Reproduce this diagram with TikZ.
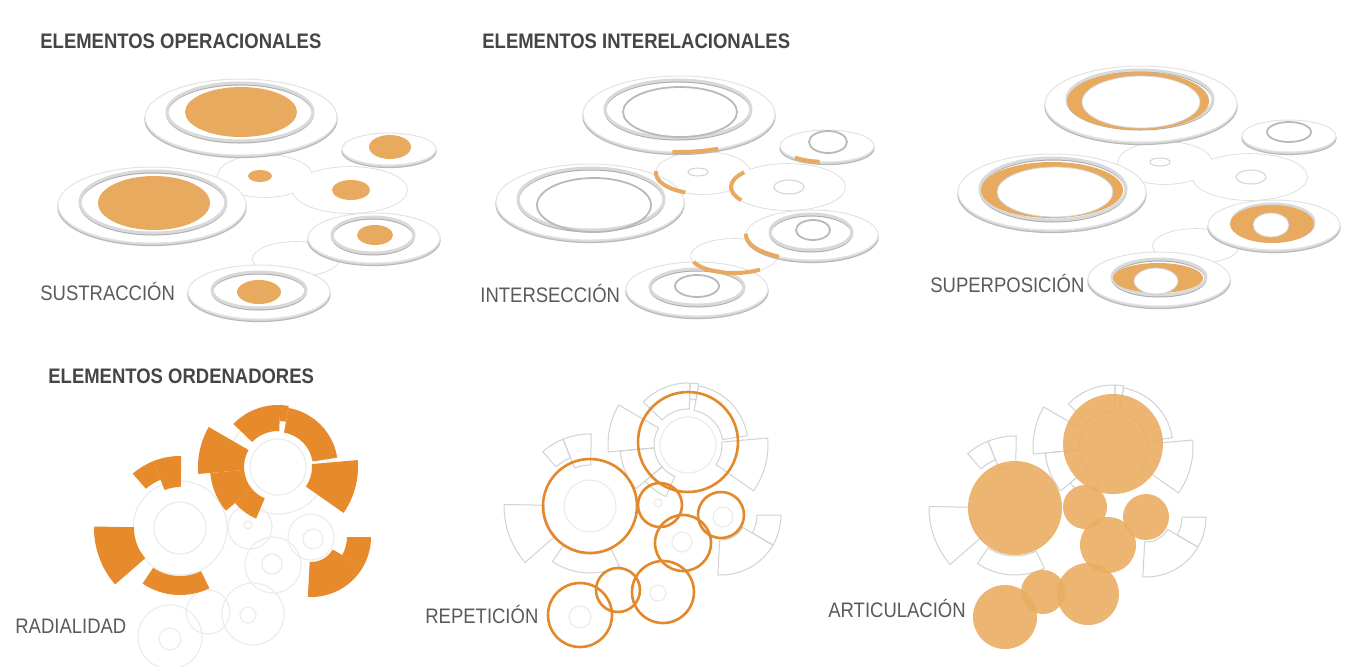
\documentclass[tikz,border=0pt]{standalone}
\usepackage{fontspec}
\setmainfont{Liberation Sans}[FakeStretch=0.88]
\definecolor{naranja}{HTML}{E8AA5E}
\definecolor{naranjafuerte}{HTML}{E68A2C}
\definecolor{naranjaaro}{HTML}{E3882B}
\definecolor{naranjaclaro}{HTML}{EAAD63}
\definecolor{titulo}{HTML}{454545}
\definecolor{rotulo}{HTML}{5A5A5A}
\tikzset{
  titulo/.style={font=\fontsize{10.5}{12}\selectfont\bfseries, text=titulo, anchor=base west, inner sep=0},
  rotulo/.style={font=\fontsize{10.5}{12}\selectfont, text=rotulo, anchor=base west, inner sep=0},
  disco/.style={draw=gray!28, line width=0.8pt},
  sombra/.style={fill=gray!30, draw=gray!55, line width=0.6pt},
  plato/.style={fill=white, draw=gray!22, line width=0.5pt},
  anillo/.style={draw=gray!30, line width=1.5pt},
  anillosombra/.style={draw=gray!65, line width=1pt},
  nucleo/.style={fill=naranja},
  borde/.style={draw=gray!55, line width=0.9pt},
  tenue/.style={draw=gray!35, line width=0.5pt},
  cruce/.style={draw=naranja, line width=2pt},
  hueco/.style={fill=white, draw=gray!35, line width=0.4pt},
  rueda/.style={draw=gray!35, line width=0.5pt},
  ruedallena/.style={fill=naranjafuerte},
  fondo/.style={draw=gray!15, line width=0.6pt},
  aro/.style={draw=naranjaaro, line width=1.3pt},
  burbuja/.style={fill=naranjaclaro, fill opacity=0.9},
}
% platos de los elementos operacionales e interelacionales
\newcommand{\platos}{%
  \foreach \x/\y/\a/\b in {265/176/47/21, 350/190/57/23, 296/259/43/17}
    \draw[disco] (\x,\y) ellipse[x radius=\a, y radius=\b];
  \foreach \x/\y/\a/\b in {265/176/47/21, 350/190/57/23, 296/259/43/17}
    \fill[white] (\x,\y) ellipse[x radius=\a, y radius=\b];
  \foreach \x/\y/\a/\b in {241/117/96/38, 389/149/47/16, 152/205/94/38, 374/238/66/25, 259/292/71/27}{
    \filldraw[sombra] (\x,\y+2.5) ellipse[x radius=\a, y radius=\b];
    \filldraw[plato] (\x,\y) ellipse[x radius=\a, y radius=\b];
  }
  \foreach \x/\y/\a/\b in {240/112/73/29, 153/202/73/31, 373/235/41/18, 259/290/47/18}{
    \draw[anillosombra] (\x,\y+1.5) ellipse[x radius=\a, y radius=\b];
    \draw[anillo] (\x,\y) ellipse[x radius=\a, y radius=\b];
  }
}
% piezas de los engranajes
\newcommand{\ruedas}[1]{%
  \begin{scope}[shift={(688,445)}]
    \foreach \a/\b/\ri/\ro in {175/210/34/80, 140/175/34/68, 113/140/34/56, -136/-88/36/62, -88/-80/46/62, -80/-9/35/60, -5/35/34/80}
      \path[#1] (\a:\ri) -- (\a:\ro) arc[start angle=\a, end angle=\b, radius=\ro] -- (\b:\ri) arc[start angle=\b, end angle=\a, radius=\ri] -- cycle;
  \end{scope}
  \begin{scope}[shift={(590,506)}]
    \foreach \a/\b/\ri/\ro in {-131/-112/52/72, -112/-89/41/72, 139/181/46/86, 64/124/48/67}
      \path[#1] (\a:\ri) -- (\a:\ro) arc[start angle=\a, end angle=\b, radius=\ro] -- (\b:\ri) arc[start angle=\b, end angle=\a, radius=\ri] -- cycle;
  \end{scope}
  \begin{scope}[shift={(721,515)}]
    \foreach \a/\b/\ri/\ro in {0/30/36/60, 30/93/25/60}
      \path[#1] (\a:\ri) -- (\a:\ro) arc[start angle=\a, end angle=\b, radius=\ro] -- (\b:\ri) arc[start angle=\b, end angle=\a, radius=\ri] -- cycle;
  \end{scope}
}
\newcommand{\circulos}{%
  \foreach \x/\y/\r in {688/442/50, 590/506/47, 688/445/28, 590/506/26, 660/505/22, 721/515/23, 683/543/28, 663/592/31, 618/590/22, 580/615/32, 658/503/4, 723/517/10, 682/542/10, 658/593/8, 580/617/11}
    \draw[fondo] (\x,\y) circle[radius=\r];
}
\begin{document}
\begin{tikzpicture}[x=0.5pt, y=-0.5pt]
	\useasboundingbox[fill=white] (0,0) rectangle (1345,666);
	% sustraccion
	\platos
	\foreach \x/\y/\a/\b in {241/112/56/25, 390/147/21/12, 154/203/56/27, 260/176/12/6, 351/190/19/10, 375/235/18/10, 259/292/22/12}
		\fill[nucleo] (\x,\y) ellipse[x radius=\a, y radius=\b];
	% interseccion
	\begin{scope}[shift={(438,-3)}]
		\platos
		\foreach \x/\y/\a/\b in {242/115/57/25, 390/145/19/11, 156/208/57/27, 375/233/17/10, 259/289/22/11}
			\draw[borde] (\x,\y) ellipse[x radius=\a, y radius=\b];
		\foreach \x/\y/\a/\b in {260/175/10/4, 351/190/15/7}
			\draw[tenue] (\x,\y) ellipse[x radius=\a, y radius=\b];
		\draw[cruce] (241,117) ++(66:96 and 38) arc[start angle=66, end angle=94, x radius=96, y radius=38];
		\draw[cruce] (265,176) ++(112:47 and 21) arc[start angle=112, end angle=185, x radius=47, y radius=21];
		\draw[cruce] (350,190) ++(145:57 and 23) arc[start angle=145, end angle=220, x radius=57, y radius=23];
		\draw[cruce] (389,149) ++(99:47 and 16) arc[start angle=99, end angle=133, x radius=47, y radius=16];
		\draw[cruce] (374,238) ++(120:66 and 25) arc[start angle=120, end angle=183, x radius=66, y radius=25];
		\draw[cruce] (296,259) ++(53:43 and 17) arc[start angle=53, end angle=160, x radius=43, y radius=17];
	\end{scope}
	% superposicion
	\begin{scope}[shift={(900,-13)}]
		\platos
		\foreach \x/\y/\a/\b in {238/114/71/29, 152/203/71/28, 372/237/42/19, 258/291/45/15}
			\fill[nucleo] (\x,\y) ellipse[x radius=\a, y radius=\b];
		\foreach \x/\y/\a/\b in {241/115/59/26, 155/205/58/25, 371/238/18/12, 256/294/22/13}
			\filldraw[hueco] (\x,\y) ellipse[x radius=\a, y radius=\b];
		\draw[borde] (389,145) ellipse[x radius=22, y radius=10];
		\foreach \x/\y/\a/\b in {260/175/10/4, 351/190/15/7}
			\draw[tenue] (\x,\y) ellipse[x radius=\a, y radius=\b];
	\end{scope}
	% radialidad
	\begin{scope}[shift={(-410,22)}]
		\circulos
		\ruedas{ruedallena}
	\end{scope}
	% repeticion
	\ruedas{rueda}
	\circulos
	\foreach \x/\y/\r in {688/442/50, 590/506/47, 660/505/22, 721/515/23, 683/543/28, 663/592/31, 618/590/22, 580/615/32}
		\draw[aro] (\x,\y) circle[radius=\r];
	% articulacion
	\begin{scope}[shift={(425,2)}]
		\ruedas{rueda}
		\foreach \x/\y/\r in {688/442/50, 590/506/47, 660/505/22, 721/515/23, 683/543/28, 663/592/31, 618/590/22, 580/615/32}
			\fill[burbuja] (\x,\y) circle[radius=\r];
	\end{scope}
	\node[titulo] (tOper) at (40,48) {ELEMENTOS OPERACIONALES};
	\node[titulo] (tInter) at (482,48) {ELEMENTOS INTERELACIONALES};
	\node[titulo] (tOrden) at (48,383) {ELEMENTOS ORDENADORES};
	\node[rotulo] (lSus) at (40,300) {SUSTRACCIÓN};
	\node[rotulo] (lInt) at (480,302) {INTERSECCIÓN};
	\node[rotulo] (lSup) at (930,292) {SUPERPOSICIÓN};
	\node[rotulo] (lRad) at (15,633) {RADIALIDAD};
	\node[rotulo] (lRep) at (425,623) {REPETICIÓN};
	\node[rotulo] (lArt) at (828,617) {ARTICULACIÓN};
\end{tikzpicture}
\end{document}
